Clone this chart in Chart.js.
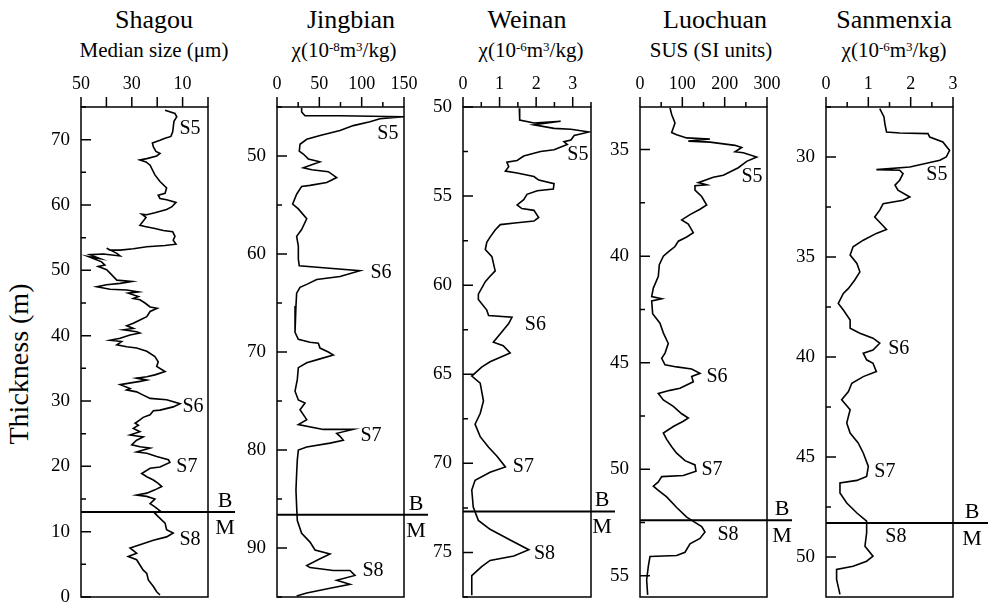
<!DOCTYPE html>
<html>
<head>
<meta charset="utf-8">
<script src="https://cdn.jsdelivr.net/npm/chart.js@4.4.0/dist/chart.umd.min.js"></script>
<style>
  body { margin: 0; background: #fff; }
  #wrap { position: relative; width: 988px; height: 603px; font-family: "Liberation Serif", "Times New Roman", serif; color: #000; }
  #wrap canvas { position: absolute; left: 0; top: 0; }
  .ttl, .sub { position: absolute; transform: translateX(-50%); white-space: nowrap; }
  .ttl { top: 7px; font-size: 26px; line-height: 26px; }
  .sub { top: 40px; font-size: 21px; line-height: 21px; }
  sup { font-size: 0.62em; vertical-align: 0.5em; line-height: 0; }
  #ylab { position: absolute; left: 19px; top: 364px; transform: translate(-50%, -50%) rotate(-90deg);
          font-size: 28px; line-height: 28px; white-space: nowrap; }
</style>
</head>
<body>
<div id="wrap">
  <div class="ttl" style="left:154px">Shagou</div>
  <div class="sub" style="left:154px">Median size (μm)</div>
  <div class="ttl" style="left:351px">Jingbian</div>
  <div class="sub" style="left:344px">χ(10<sup>-8</sup>m<sup>3</sup>/kg)</div>
  <div class="ttl" style="left:527px">Weinan</div>
  <div class="sub" style="left:531px">χ(10<sup>-6</sup>m<sup>3</sup>/kg)</div>
  <div class="ttl" style="left:715px">Luochuan</div>
  <div class="sub" style="left:711px">SUS (SI units)</div>
  <div class="ttl" style="left:894px">Sanmenxia</div>
  <div class="sub" style="left:894px">χ(10<sup>-6</sup>m<sup>3</sup>/kg)</div>
  <div id="ylab">Thickness (m)</div>
  <canvas id="c1" width="988" height="603"></canvas>
  <canvas id="c2" width="988" height="603"></canvas>
  <canvas id="c3" width="988" height="603"></canvas>
  <canvas id="c4" width="988" height="603"></canvas>
  <canvas id="c5" width="988" height="603"></canvas>
</div>
<script>
const FONT = "'Liberation Serif', 'Times New Roman', serif";
Chart.defaults.font.family = FONT;
Chart.defaults.color = '#000';

// Shagou: thickness (m) and median grain size (um)
const shagouDepth = [74.5, 74.0, 73.5, 72.8, 71.2, 70.5, 70.2, 69.9, 69.5, 68.9, 68.2, 67.9, 67.5, 67.1, 66.9, 66.6, 66.1, 64.6, 63.6, 62.6,
  61.8, 61.5, 61.0, 60.8, 60.4, 59.7, 59.3, 58.8, 58.5, 58.6, 58.1, 56.9, 56.7, 56.4, 56.1, 55.9, 55.2, 54.6, 54.0, 53.8,
  53.6, 53.3, 53.1, 53.1, 53.4, 52.6, 52.2, 52.5, 52.4, 51.8, 52.1, 51.3, 50.8, 50.6, 50.1, 49.3, 48.5, 48.3, 48.0, 47.8,
  47.5, 47.1, 47.0, 46.7, 46.5, 46.0, 45.7, 45.5, 45.0, 44.4, 44.2, 43.7, 42.9, 42.4, 41.9, 41.5, 41.1, 40.9, 40.6, 40.4,
  40.1, 39.6, 39.3, 39.1, 38.6, 38.3, 38.1, 37.6, 36.8, 36.0, 35.3, 34.5, 34.0, 33.7, 33.5, 33.2, 33.0, 32.5, 31.9, 31.7,
  31.4, 30.9, 30.4, 30.2, 29.6, 29.1, 28.6, 28.5, 27.9, 27.5, 27.1, 26.6, 26.3, 25.8, 25.3, 24.8, 24.5, 24.0, 23.3, 23.0,
  22.8, 22.2, 22.0, 21.5, 21.0, 20.6, 19.9, 19.7, 18.9, 18.4, 17.9, 17.4, 16.9, 16.4, 15.9, 15.6, 15.4, 15.0, 14.3, 13.8,
  13.2, 12.8, 12.3, 11.3, 10.3, 9.8, 9.2, 8.7, 8.0, 7.5, 6.7, 6.2, 5.7, 4.9, 4.1, 3.6, 2.6, 1.6, 0.8, 0.3];
const shagouSize = [16.9, 13.0, 12.3, 13.4, 13.9, 14.6, 16.9, 18.9, 21.9, 21.5, 20.5, 18.9, 20.2, 24.1, 26.8, 24.4, 22.8, 20.9, 18.9, 16.3,
  16.9, 19.6, 18.9, 16.3, 12.6, 14.3, 16.3, 20.9, 24.1, 26.1, 24.4, 26.8, 24.8, 20.9, 17.6, 13.9, 13.0, 13.7, 12.6, 16.9,
  24.1, 29.4, 34.6, 38.6, 39.9, 35.9, 34.6, 41.2, 46.5, 42.5, 47.1, 41.9, 40.6, 43.2, 39.9, 37.9, 35.9, 30.0, 34.6, 39.9,
  43.8, 38.6, 32.0, 27.4, 31.4, 27.4, 29.4, 26.8, 24.8, 22.8, 20.0, 22.8, 24.1, 26.8, 29.4, 32.0, 29.4, 33.3, 28.1, 26.8,
  30.7, 34.6, 38.6, 34.0, 35.9, 32.0, 28.1, 24.1, 20.9, 19.6, 20.2, 16.9, 20.9, 24.1, 28.1, 24.1, 26.8, 34.6, 30.7, 32.0,
  28.1, 25.5, 22.8, 16.3, 11.0, 13.7, 18.9, 21.5, 22.8, 25.5, 26.8, 28.7, 27.4, 29.4, 26.8, 30.7, 25.5, 28.1, 30.0, 26.8,
  22.8, 28.1, 24.1, 20.2, 15.6, 15.0, 18.9, 22.8, 26.1, 24.1, 21.5, 19.6, 18.2, 20.9, 24.1, 28.1, 24.1, 20.9, 22.8, 20.9,
  18.9, 20.9, 19.6, 16.9, 16.3, 13.7, 16.3, 21.5, 26.8, 30.7, 28.1, 31.4, 28.1, 26.8, 25.5, 24.1, 23.5, 21.5, 20.2, 18.9];

// Jingbian: thickness (m) and susceptibility (1e-8 m3/kg)
const jingbianDepth = [45.1, 45.5, 45.9, 45.9, 46.0, 46.2, 46.5, 46.9, 47.4, 47.9, 48.3, 48.8, 49.5, 49.8, 50.3, 50.5, 50.6, 50.9, 51.2, 51.4,
  51.6, 52.2, 52.7, 53.0, 53.1, 53.9, 54.9, 55.4, 56.4, 57.5, 58.2, 59.2, 60.5, 61.2, 61.4, 61.7, 62.3, 62.6, 63.1, 63.4,
  64.0, 65.3, 66.7, 68.0, 68.7, 69.0, 69.1, 69.6, 70.0, 70.3, 70.7, 71.1, 71.6, 72.8, 74.0, 74.9, 75.2, 75.9, 76.9, 77.4,
  77.9, 77.9, 78.3, 78.6, 79.0, 79.3, 79.7, 80.0, 81.0, 82.4, 84.1, 85.8, 87.2, 88.5, 89.4, 90.2, 90.6, 91.1, 91.8, 92.0,
  92.3, 92.3, 92.8, 93.3, 93.7, 94.1, 94.6, 94.9];
const jingbianChi = [29.1, 29.1, 33.1, 74.4, 150, 121.6, 109.8, 90.1, 74.4, 50.8, 35.1, 27.2, 26.3, 31.1, 37.0, 46.9, 50.8, 41.0, 31.1, 41.0,
  60.6, 70.5, 58.7, 39.0, 29.1, 23.2, 18.5, 25.2, 35.1, 29.1, 23.2, 25.2, 25.2, 26.3, 54.7, 98.0, 74.4, 46.9, 35.1, 27.2,
  23.2, 22.4, 21.3, 21.3, 25.2, 39.0, 48.8, 50.8, 60.6, 66.5, 50.8, 35.1, 25.2, 24.0, 21.3, 25.2, 33.1, 27.2, 35.1, 25.2,
  54.7, 90.1, 70.5, 74.4, 78.3, 62.6, 35.1, 25.2, 24.0, 23.2, 22.4, 23.2, 24.0, 29.1, 39.0, 44.9, 62.6, 50.8, 35.1, 39.0,
  66.5, 86.2, 92.1, 70.5, 86.2, 62.6, 35.1, 23.2];

// Weinan: thickness (m) and susceptibility (1e-6 m3/kg)
const weinanDepth = [50.07, 50.73, 50.9, 50.8, 51.0, 51.2, 51.25, 51.4, 51.6, 51.85, 51.95, 52.1, 52.4, 52.5, 52.75, 53.0, 53.1, 53.35, 53.6, 53.7,
  53.9, 54.1, 54.3, 54.6, 54.7, 54.9, 55.2, 55.5, 55.7, 55.8, 56.2, 56.4, 56.5, 56.6, 56.9, 57.3, 57.6, 58.0, 58.4, 59.2,
  59.5, 59.8, 60.5, 60.8, 61.4, 61.7, 61.8, 62.15, 62.5, 63.2, 63.4, 63.8, 64.3, 64.6, 65.1, 65.5, 66.5, 67.2, 67.8, 68.5,
  69.1, 69.6, 70.2, 70.5, 70.95, 71.5, 72.45, 73.2, 73.7, 74.3, 74.85, 75.2, 75.45, 75.8, 76.3, 77.4];
const weinanChi = [1.54, 1.55, 1.94, 2.67, 1.94, 2.49, 2.95, 3.45, 3.04, 2.95, 2.76, 2.85, 2.49, 2.12, 1.66, 1.48, 1.20, 1.25, 1.16, 1.48,
  1.94, 2.07, 2.49, 2.47, 2.03, 1.75, 1.66, 1.48, 1.61, 1.94, 2.07, 1.94, 1.48, 1.02, 0.88, 0.74, 0.65, 0.61, 0.79, 0.88,
  0.74, 0.61, 0.42, 0.42, 0.65, 0.70, 1.34, 1.25, 1.11, 0.83, 1.10, 1.29, 0.74, 0.51, 0.24, 0.47, 0.56, 0.47, 0.33, 0.47,
  0.70, 0.93, 1.16, 0.74, 0.33, 0.24, 0.28, 0.42, 0.74, 1.29, 1.80, 1.39, 0.74, 0.51, 0.24, 0.24];

// Luochuan: thickness (m) and SUS (SI units)
const luochuanDepth = [33.04, 33.35, 33.75, 34.2, 34.3, 34.45, 34.5, 34.6, 34.65, 34.8, 34.9, 35.1, 35.15, 35.35, 35.55, 35.85, 36.2, 36.3, 36.55, 36.65,
  36.7, 36.9, 37.2, 37.6, 37.8, 38.05, 38.3, 38.5, 38.9, 39.1, 39.3, 39.55, 39.8, 40.0, 40.4, 40.95, 41.5, 41.9, 42.0, 42.1,
  42.7, 43.15, 43.6, 44.1, 44.55, 44.8, 45.1, 45.2, 45.3, 45.5, 45.65, 45.9, 46.2, 46.3, 46.45, 46.75, 47.05, 47.4, 47.6, 47.75,
  48.0, 48.3, 48.6, 48.95, 49.25, 49.6, 49.8, 50.1, 50.3, 50.35, 50.6, 50.8, 51.0, 51.3, 51.8, 52.25, 52.5, 52.7, 52.95, 53.25,
  53.5, 53.9, 54.05, 54.1, 54.55, 55.2, 55.9];
const luochuanSus = [70.9, 74.8, 82.7, 74.8, 86.6, 110.3, 165.3, 114.1, 165.3, 224.4, 240.2, 224.4, 244.0, 275.6, 252.0, 232.2, 196.8, 173.1, 137.7, 157.5,
  129.9, 129.9, 145.7, 157.5, 141.7, 118.1, 98.5, 114.1, 125.9, 110.3, 90.5, 82.7, 66.8, 55.1, 45.6, 43.3, 31.5, 27.6, 51.2, 27.6,
  29.9, 47.2, 55.1, 66.8, 59.1, 51.2, 59.1, 86.6, 122.0, 141.7, 122.0, 125.9, 94.5, 70.9, 43.3, 55.1, 78.7, 98.5, 114.1, 102.3,
  78.7, 55.1, 63.0, 74.8, 86.6, 106.3, 129.9, 132.3, 102.3, 51.2, 43.3, 31.5, 43.3, 63.0, 86.6, 110.3, 129.9, 145.7, 153.5, 141.7,
  118.1, 106.3, 86.6, 23.6, 19.7, 15.7, 18.1];

// Sanmenxia: thickness (m) and susceptibility (1e-6 m3/kg)
const sanmenxiaDepth = [27.58, 28.0, 28.33, 28.75, 28.8, 28.83, 29.0, 29.25, 29.67, 30.0, 30.16, 30.5, 30.63, 30.66, 30.83, 31.16, 31.41, 31.66, 32.0, 32.16,
  32.33, 32.66, 33.0, 33.62, 33.82, 34.16, 34.49, 34.9, 35.32, 35.74, 36.15, 36.57, 36.82, 37.32, 37.65, 38.15, 38.56, 38.81, 39.06, 39.31,
  39.65, 39.81, 40.14, 40.31, 40.73, 40.98, 41.31, 41.73, 42.14, 42.64, 43.3, 43.8, 44.3, 44.8, 45.47, 45.97, 46.17, 46.3, 46.8, 47.3,
  47.8, 48.21, 48.79, 49.46, 49.96, 50.21, 50.46, 50.62, 51.12, 51.87];
const sanmenxiaChi = [1.27, 1.37, 1.39, 1.43, 1.74, 2.41, 2.45, 2.76, 2.92, 2.84, 2.69, 1.98, 1.19, 1.74, 1.82, 1.74, 1.63, 1.70, 1.98, 1.82,
  1.35, 1.27, 1.15, 1.43, 1.19, 0.88, 0.64, 0.57, 0.73, 0.80, 0.68, 0.53, 0.41, 0.29, 0.41, 0.57, 0.57, 0.80, 1.11, 1.27,
  1.11, 0.88, 0.96, 1.11, 1.19, 0.88, 0.61, 0.53, 0.37, 0.57, 0.49, 0.57, 0.76, 0.88, 1.00, 0.96, 0.73, 0.33, 0.33, 0.49,
  0.73, 0.96, 0.96, 0.92, 1.11, 0.96, 0.64, 0.25, 0.25, 0.33];

// paleosol labels and where they sit (value, depth)
const soilNames = ['S5', 'S6', 'S7', 'S8'];
const shagouSoil = [[7.1, 71.6], [5.9, 29.1], [8.3, 19.9], [7.1, 8.7]];
const jingbianSoil = [[131, 47.7], [122.8, 61.9], [111, 78.5], [113.4, 92.3]];
const weinanSoil = [[3.14, 52.7], [1.98, 62.2], [1.65, 70.2], [2.23, 75.1]];
const luochuanSoil = [[264.5, 36.27], [181.9, 45.67], [170, 50.04], [207.9, 53.1]];
const sanmenxiaSoil = [[2.62, 30.91], [1.72, 39.6], [1.39, 45.74], [1.65, 48.98]];

// Brunhes / Matuyama boundary depth per section
const bmDepth = [13.0, 86.6, 72.7, 52.4, 48.3];

const isMult = (v, s) => Math.abs(v / s - Math.round(v / s)) < 1e-6;

const panels = [
  { id: 'c1', depth: shagouDepth, value: shagouSize, soil: shagouSoil, bm: bmDepth[0],
    box: [81, 208], x: [0, 50, true, 10], xMajor: 10, xLab: v => isMult(v - 10, 20),
    y: [0, 75, false, 5], yMajor: 10, bmExt: 27, bmOff: 17 },
  { id: 'c2', depth: jingbianDepth, value: jingbianChi, soil: jingbianSoil, bm: bmDepth[1],
    box: [277, 404], x: [0, 150, false, 25], xMajor: 50, xLab: v => isMult(v, 50),
    y: [45, 95, true, 5], yMajor: 10, bmExt: 24, bmOff: 12 },
  { id: 'c3', depth: weinanDepth, value: weinanChi, soil: weinanSoil, bm: bmDepth[2],
    box: [463, 591], x: [0, 3.5, false, 0.5], xMajor: 1, xLab: v => isMult(v, 1),
    y: [50, 77.5, true, 2.5], yMajor: 5, bmExt: 24, bmOff: 11 },
  { id: 'c4', depth: luochuanDepth, value: luochuanSus, soil: luochuanSoil, bm: bmDepth[3],
    box: [640, 767], x: [0, 300, false, 50], xMajor: 100, xLab: v => isMult(v, 100),
    y: [33, 56, true, 2.5], yMajor: 5, bmExt: 25, bmOff: 15 },
  { id: 'c5', depth: sanmenxiaDepth, value: sanmenxiaChi, soil: sanmenxiaSoil, bm: bmDepth[4],
    box: [826, 953], x: [0, 3, false, 0.5], xMajor: 1, xLab: v => isMult(v, 1),
    y: [27.5, 52, true, 2.5], yMajor: 5, bmExt: 35, bmOff: 19 }
];

const TOP = 107, BOTTOM = 597, Y_W = 45, X_H = 37;

// frame, inward/outward tick marks, B/M line and soil labels
const decor = {
  id: 'decor',
  afterDraw(chart, args, o) {
    const { ctx, chartArea: a, scales: { x, y } } = chart;
    ctx.save();
    ctx.strokeStyle = '#000';
    ctx.lineWidth = 1.5;
    ctx.strokeRect(a.left, a.top, a.right - a.left, a.bottom - a.top);
    ctx.beginPath();
    x.ticks.forEach(t => {
      const px = x.getPixelForValue(t.value);
      const len = isMult(t.value, o.xMajor) ? 10 : 5;
      ctx.moveTo(px, a.top);
      ctx.lineTo(px, a.top - len);
    });
    y.ticks.forEach(t => {
      const py = y.getPixelForValue(t.value);
      const len = isMult(t.value, o.yMajor) ? 10 : 5;
      ctx.moveTo(a.left, py);
      ctx.lineTo(a.left + len, py);
    });
    ctx.stroke();

    const by = y.getPixelForValue(o.bm);
    ctx.lineWidth = 2;
    ctx.beginPath();
    ctx.moveTo(a.left, by);
    ctx.lineTo(a.right + o.bmExt, by);
    ctx.stroke();

    ctx.fillStyle = '#000';
    ctx.textAlign = 'center';
    ctx.font = '22px ' + FONT;
    ctx.fillText('B', a.right + o.bmOff, by - 5);
    ctx.fillText('M', a.right + o.bmOff, by + 22);

    ctx.font = '20px ' + FONT;
    ctx.textBaseline = 'middle';
    o.soil.forEach((p, i) => {
      ctx.fillText(soilNames[i], x.getPixelForValue(p[0]), y.getPixelForValue(p[1]));
    });
    ctx.restore();
  }
};

panels.forEach(p => {
  new Chart(document.getElementById(p.id), {
    type: 'scatter',
    data: {
      datasets: [{
        data: p.depth.map((d, i) => ({ x: p.value[i], y: d })),
        showLine: true,
        borderColor: '#000',
        borderWidth: 1.6,
        pointRadius: 0,
        tension: 0
      }]
    },
    plugins: [decor],
    options: {
      responsive: false,
      animation: false,
      events: [],
      layout: {
        autoPadding: false,
        padding: { left: p.box[0] - Y_W, right: 988 - p.box[1], top: TOP - X_H, bottom: 603 - BOTTOM }
      },
      plugins: {
        legend: { display: false },
        tooltip: { enabled: false },
        decor: { xMajor: p.xMajor, yMajor: p.yMajor, bm: p.bm, bmExt: p.bmExt, bmOff: p.bmOff, soil: p.soil }
      },
      scales: {
        x: {
          type: 'linear', position: 'top',
          min: p.x[0], max: p.x[1], reverse: p.x[2],
          grid: { display: false, drawTicks: false },
          border: { display: false },
          ticks: { stepSize: p.x[3], padding: 12, maxRotation: 0, autoSkip: false,
                   font: { family: FONT, size: 18 }, callback: v => p.xLab(v) ? String(v) : '' },
          afterFit: s => { s.height = X_H; s.paddingLeft = 0; s.paddingRight = 0; }
        },
        y: {
          type: 'linear', position: 'left',
          min: p.y[0], max: p.y[1], reverse: p.y[2],
          grid: { display: false, drawTicks: false },
          border: { display: false },
          ticks: { stepSize: p.y[3], padding: 11, autoSkip: false, includeBounds: false,
                   font: { family: FONT, size: 19 }, callback: v => isMult(v, p.yMajor) ? String(v) : '' },
          afterFit: s => { s.width = Y_W; s.paddingTop = 0; s.paddingBottom = 0; }
        }
      }
    }
  });
});
</script>
</body>
</html>
